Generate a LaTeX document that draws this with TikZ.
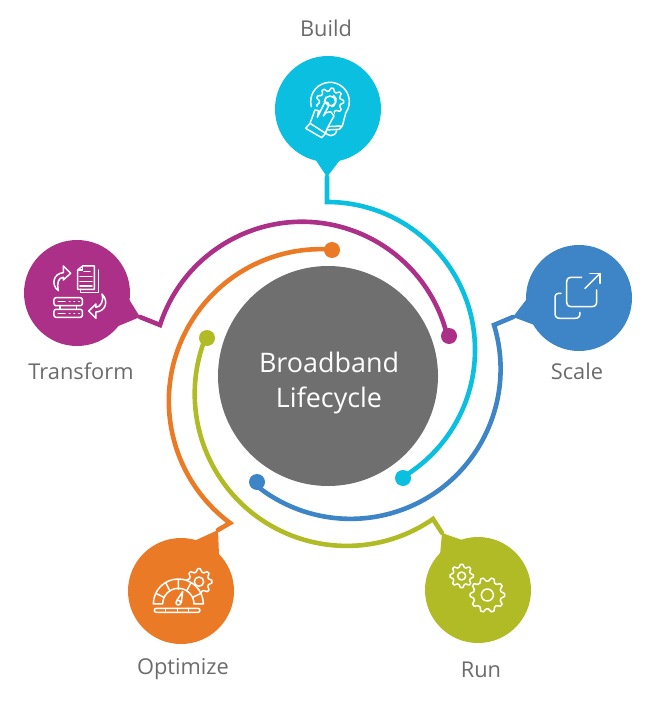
\documentclass[tikz,border=0pt]{standalone}
\usepackage{fontspec}
\setmainfont{Open Sans}
\definecolor{cyanc}{HTML}{0ABFDF}
\definecolor{bluec}{HTML}{3D85C6}
\definecolor{greenc}{HTML}{B1BB26}
\definecolor{orangec}{HTML}{EB7A26}
\definecolor{magc}{HTML}{AD3088}
\definecolor{grayc}{HTML}{6F6F6F}
\definecolor{labc}{HTML}{6B6B6B}
\newcommand{\geargl}[6]{% cx cy router rinner teeth hole
  \pgfmathsetmacro{\stp}{360/#5}
  \draw[icon] plot[samples at={0,...,\numexpr#5*4-1\relax},variable=\k]
    ({#1+(mod(\k,4)<2?#3:#4)*cos((\k-0.5)*\stp/4)},{#2+(mod(\k,4)<2?#3:#4)*sin((\k-0.5)*\stp/4)}) -- cycle;
  \draw[icon] (#1,#2) circle[radius=#6];
}
\tikzset{
  x=1pt,y=-1pt,
  pin/.style={circle,inner sep=0pt,minimum size=106pt,draw=none,fill=#1},
  tail/.style={fill=#1,draw=none},
  conn/.style={draw=#1,line width=4.6pt,line join=miter,line cap=round,fill=none},
  dot/.style={circle,inner sep=0pt,minimum size=16pt,fill=#1},
  lab/.style={font=\fontsize{21.8}{24}\selectfont,text=labc,anchor=base},
  hubt/.style={font=\fontsize{26.9}{32}\selectfont,text=white,anchor=base},
  icon/.style={draw=white,line width=1.5pt,line join=round,line cap=round,fill=none},
}
\begin{document}
\begin{tikzpicture}
\useasboundingbox (0,0) rectangle (660,703);
% hub
\node[circle,inner sep=0pt,minimum size=220pt,fill=grayc] (hub) at (328,376) {};
\node[hubt] (hub1) at (329,372) {Broadband};
\node[hubt] (hub2) at (329,407.5) {Lifecycle};
% pins
\node[pin=cyanc] (build) at (328,109) {};
\node[pin=bluec] (scale) at (579,298) {};
\node[pin=greenc] (run) at (478,590) {};
\node[pin=orangec] (opt) at (181,591) {};
\node[pin=magc] (trans) at (77,293) {};
% tails
\coordinate (bt) at (327,177);
\coordinate (st) at (513,317);
\coordinate (rt) at (442,533);
\coordinate (ot) at (218,530);
\coordinate (tt) at (140,317);
\fill[tail=cyanc] (313,156) -- (bt) -- (343,156) -- cycle;
\fill[tail=bluec] (529,296) -- (st) -- (537,326) -- cycle;
\fill[tail=greenc] (440,555) -- (rt) -- (465,541) -- cycle;
\fill[tail=orangec] (194,541) -- (ot) -- (219,555) -- cycle;
\fill[tail=magc] (127,296) -- (tt) -- (116,327) -- cycle;
% dots
\node[dot=cyanc] (bd) at (403,478) {};
\node[dot=bluec] (sd) at (257,482) {};
\node[dot=greenc] (rd) at (207,338) {};
\node[dot=orangec] (od) at (332,250) {};
\node[dot=magc] (td) at (449,336) {};
% connectors
\draw[conn=cyanc] (bt) -- (327,202) arc[start angle=-90,end angle=59.6,radius=148];
\draw[conn=bluec] (st) -- (494,325) arc[start angle=-17,end angle=130,radius=150];
\draw[conn=greenc] (rt) -- (433,519) arc[start angle=55.4,end angle=202,radius=152];
\draw[conn=orangec] (ot) -- (230,523) arc[start angle=126.7,end angle=274.2,radius=152];
\draw[conn=magc] (tt) -- (160,325) arc[start angle=198,end angle=347,radius=149.4];
% labels
\node[lab] (l1) at (326,37) {Build};
\node[lab] (l2) at (577,379) {Scale};
\node[lab] (l3) at (481,677) {Run};
\node[lab] (l4) at (183,674) {Optimize};
\node[lab] (l5) at (81,379) {Transform};
% icon build
\begin{scope}[shift={(260,40)},x=0.3333pt,y=-0.3333pt]
\draw[icon] (210,185) ++(165:58) arc[start angle=165,end angle=395,radius=58] -- (247,258) -- (197,260);
\draw[icon] (247,258) -- (238,268) -- (197,270);
\draw[icon] (195,272) .. controls (200,292) and (225,292) .. (230,272);
\geargl{210}{185}{41}{32}{9}{17}
\fill[cyanc] (150,250) -- (165,205) -- (195,185) -- (210,190) -- (225,228) -- (195,280) -- cycle;
\draw[icon] (197,172) arc[start angle=210,end angle=-60,radius=17];
\draw[icon] (150,250) -- (165,210) -- (176,212) -- (172,232) -- (192,192) .. controls (197,182) and (210,188) .. (206,198) -- (190,228) -- (198,218) -- (212,215) -- (222,228) -- (207,255) -- (195,280);
\draw[icon] (150,250) -- (197,280) -- (185,293) -- (137,265) -- cycle;
\end{scope}
% icon scale
\begin{scope}[shift={(480,235)},x=0.3333pt,y=-0.3333pt]
\draw[icon] (305,127) -- (275,127) .. controls (265,127) and (260,132) .. (260,142) -- (260,200) .. controls (260,210) and (265,215) .. (275,215) -- (335,215) .. controls (345,215) and (350,210) .. (350,200) -- (350,165);
\draw[icon] (243,175) -- (238,175) .. controls (228,175) and (225,180) .. (225,190) -- (225,235) .. controls (225,245) and (230,250) .. (240,250) -- (285,250) .. controls (295,250) and (300,245) .. (300,235) -- (300,232);
\draw[icon] (315,160) -- (360,115);
\draw[icon] (330,115) -- (360,115) -- (360,145);
\end{scope}
% icon run
\begin{scope}[shift={(410,510)},x=0.3333pt,y=-0.3333pt]
\geargl{155}{198}{35}{27}{8}{12}
\geargl{232}{255}{52}{42}{10}{18}
\end{scope}
% icon optimize
\begin{scope}[shift={(120,510)},x=0.3333pt,y=-0.3333pt]
\geargl{237}{215}{39}{30}{8}{14}
\fill[orangec] (175,285) circle[radius=78];
\draw[icon] (100,282) arc[start angle=180,end angle=360,radius=75] -- (222,282) arc[start angle=360,end angle=180,radius=47] -- cycle;
\draw[icon] (107,250) -- (132,262) (137,218) -- (150,243) (175,210) -- (175,238) (213,218) -- (200,243) (243,250) -- (218,262);
\draw[icon] (170,272) -- (188,245) -- (184,278);
\draw[icon] (175,278) circle[radius=7];
\draw[icon,rounded corners=2pt] (103,295) rectangle (240,307);
\draw[icon] (137,295) -- (137,307) (172,295) -- (172,307) (206,295) -- (206,307);
\end{scope}
% icon transform
\begin{scope}[shift={(10,230)},x=0.3333pt,y=-0.3333pt]
\draw[icon] (265,120) -- (265,188) -- (212,188) -- (212,178);
\draw[icon] (203,120) -- (218,108) -- (253,108) -- (253,178) -- (203,178) -- cycle;
\draw[icon] (218,108) -- (218,120) -- (203,120);
\draw[icon] (222,124) -- (240,124) (210,140) -- (246,140) (210,155) -- (246,155) (210,168) -- (246,168);
\draw[icon] (145,182) .. controls (122,165) and (130,130) .. (160,128) -- (160,108) -- (182,130) -- (160,150) -- (160,142) .. controls (145,142) and (140,160) .. (145,182);
\draw[icon] (276,192) .. controls (298,215) and (285,245) .. (258,246) -- (258,265) -- (236,243) -- (258,222) -- (258,232) .. controls (272,230) and (282,215) .. (276,192);
\draw[icon,rounded corners=2pt] (132,203) rectangle (217,227);
\draw[icon,rounded corners=2pt] (132,238) rectangle (217,262);
\draw[icon] (150,227) -- (150,238) (200,227) -- (200,238);
\draw[icon] (145,215) -- (165,215) (145,250) -- (165,250);
\draw[icon] (178,215) -- (180,215) (192,215) -- (194,215) (206,215) -- (208,215) (178,250) -- (180,250) (192,250) -- (194,250) (206,250) -- (208,250);
\end{scope}
\end{tikzpicture}
\end{document}
